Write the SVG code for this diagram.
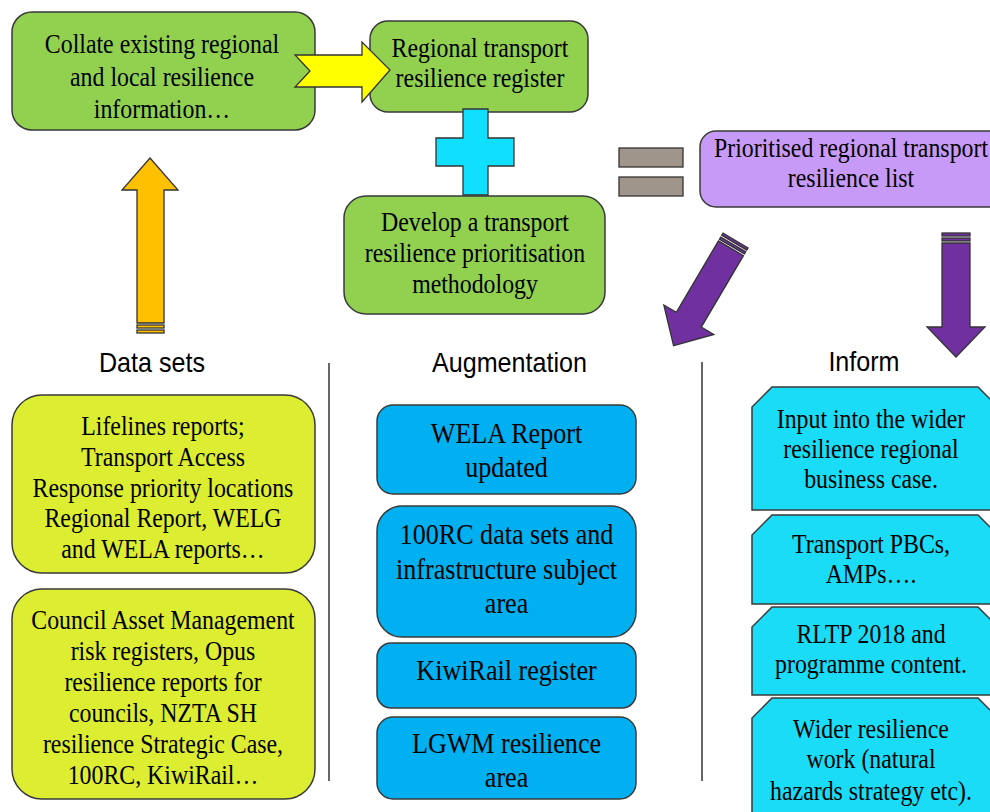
<svg xmlns="http://www.w3.org/2000/svg" width="990" height="812" viewBox="0 0 990 812">
<style>
.box{stroke:#3a3a3a;stroke-width:1.5}
.green{fill:#92D050}
.purple{fill:#C89AF7}
.lime{fill:#DDED32}
.blue{fill:#00B0F0}
.cyan{fill:#1ADCF6}
.t{font-family:"Liberation Serif","Times New Roman",serif;font-size:26.5px;fill:#000;text-anchor:middle}
.tb{font-family:"Liberation Serif","Times New Roman",serif;font-size:29px;fill:#000;text-anchor:middle}
.h{font-family:"Liberation Sans",Arial,sans-serif;font-size:27px;fill:#000;text-anchor:middle}
.arr{stroke:#333;stroke-width:1.3;stroke-linejoin:miter}
.sep{stroke:#333;stroke-width:1.5}
</style>
<rect width="990" height="812" fill="#fff"/>

<g id="separators">
<line class="sep" x1="329" y1="363" x2="329" y2="781"/>
<line class="sep" x1="702" y1="362" x2="702" y2="781"/>
</g>

<g id="headings">
<text class="h" transform="scale(0.93 1)" x="163.4" y="372">Data sets</text>
<text class="h" transform="scale(0.93 1)" x="547.8" y="372">Augmentation</text>
<text class="h" transform="scale(0.93 1)" x="929" y="371">Inform</text>
</g>

<g id="node-collate">
<rect class="box green" x="12" y="12" width="303" height="118" rx="20"/>
<g class="t" transform="scale(0.9 1)">
<text x="180" y="53">Collate existing regional</text>
<text x="180" y="86">and local resilience</text>
<text x="180" y="118">information…</text>
</g>
</g>

<g id="node-register">
<rect class="box green" x="370" y="21" width="218" height="91" rx="18"/>
<g class="t" transform="scale(0.9 1)">
<text x="533.3" y="57">Regional transport</text>
<text x="533.3" y="87">resilience  register</text>
</g>
</g>

<g id="node-methodology">
<rect class="box green" x="344" y="196" width="261" height="118" rx="22"/>
<g class="t" transform="scale(0.9 1)">
<text x="527.8" y="231">Develop a transport</text>
<text x="527.8" y="262">resilience prioritisation</text>
<text x="527.8" y="293">methodology</text>
</g>
</g>

<g id="node-prioritised">
<rect class="box purple" x="700" y="131" width="310" height="76" rx="16"/>
<g class="t" transform="scale(0.9 1)">
<text x="945.6" y="157">Prioritised regional transport</text>
<text x="945.6" y="187">resilience list</text>
</g>
</g>

<g id="operator-plus">
<path class="arr" fill="#10DFFF" d="M463,109 H488 V138 H514 V166 H488 V195 H463 V166 H436 V138 H463 Z"/>
</g>

<g id="operator-equals">
<rect class="arr" fill="#A0958A" x="619" y="148" width="64" height="19"/>
<rect class="arr" fill="#A0958A" x="619" y="177" width="64" height="19"/>
</g>

<g id="node-data-1">
<rect class="box lime" x="12" y="395" width="303" height="178" rx="30"/>
<g class="t" transform="scale(0.9 1)">
<text x="181.1" y="435">Lifelines reports;</text>
<text x="181.1" y="466">Transport Access</text>
<text x="181.1" y="497">Response priority locations</text>
<text x="181.1" y="527">Regional Report, WELG</text>
<text x="181.1" y="558">and WELA reports…</text>
</g>
</g>

<g id="node-data-2">
<rect class="box lime" x="12" y="589" width="303" height="210" rx="30"/>
<g class="t" transform="scale(0.9 1)">
<text x="181.1" y="629">Council Asset Management</text>
<text x="181.1" y="660">risk registers, Opus</text>
<text x="181.1" y="691">resilience reports for</text>
<text x="181.1" y="722">councils, NZTA SH</text>
<text x="181.1" y="753">resilience Strategic Case,</text>
<text x="181.1" y="784">100RC, KiwiRail…</text>
</g>
</g>

<g id="node-wela">
<rect class="box blue" x="377" y="405" width="259" height="89" rx="16"/>
<g class="tb" transform="scale(0.9 1)">
<text x="562.8" y="443">WELA Report</text>
<text x="562.8" y="477">updated</text>
</g>
</g>

<g id="node-100rc">
<rect class="box blue" x="377" y="506" width="259" height="131" rx="25"/>
<g class="tb" transform="scale(0.9 1)">
<text x="562.8" y="544">100RC data sets and</text>
<text x="562.8" y="579">infrastructure subject</text>
<text x="562.8" y="613">area</text>
</g>
</g>

<g id="node-kiwirail">
<rect class="box blue" x="377" y="643" width="259" height="65" rx="14"/>
<g class="tb" transform="scale(0.9 1)">
<text x="562.8" y="680">KiwiRail register</text>
</g>
</g>

<g id="node-lgwm">
<rect class="box blue" x="377" y="717" width="259" height="82" rx="16"/>
<g class="tb" transform="scale(0.9 1)">
<text x="562.8" y="753">LGWM resilience</text>
<text x="562.8" y="787">area</text>
</g>
</g>

<g id="node-inform-1">
<path class="box cyan" d="M772,387 H978 L998,407 V510 H752 V407 Z"/>
<g class="t" transform="scale(0.9 1)">
<text x="967.8" y="428">Input into the wider</text>
<text x="967.8" y="458">resilience regional</text>
<text x="967.8" y="488">business case.</text>
</g>
</g>

<g id="node-inform-2">
<path class="box cyan" d="M772,515 H978 L998,535 V604 H752 V535 Z"/>
<g class="t" transform="scale(0.9 1)">
<text x="967.8" y="553">Transport PBCs,</text>
<text x="967.8" y="583">AMPs….</text>
</g>
</g>

<g id="node-inform-3">
<path class="box cyan" d="M772,607 H978 L998,627 V695 H752 V627 Z"/>
<g class="t" transform="scale(0.9 1)">
<text x="967.8" y="643">RLTP 2018 and</text>
<text x="967.8" y="673">programme content.</text>
</g>
</g>

<g id="node-inform-4">
<path class="box cyan" d="M772,698 H978 L998,718 V820 H752 V718 Z"/>
<g class="t" transform="scale(0.9 1)">
<text x="967.8" y="738">Wider resilience</text>
<text x="967.8" y="768">work (natural</text>
<text x="967.8" y="800">hazards strategy etc).</text>
</g>
</g>

<g id="connectors">
<path class="arr" fill="#FFFF00" d="M295,55 H362 V42 L390,70 L362,102 V87 H295 L310,71 Z"/>
<g id="arrow-up">
<path class="arr" fill="#FFC000" d="M150,158 L178,190 H164 V323 H137 V190 H122 Z"/>
<rect class="arr" fill="#FFC000" x="137" y="325" width="27" height="3"/>
<rect class="arr" fill="#FFC000" x="137" y="330" width="27" height="3"/>
</g>
<g id="arrow-diag" transform="translate(735.5 240.5) rotate(30.5)">
<rect class="arr" fill="#7030A0" x="-14.5" y="0" width="29" height="2.5"/>
<rect class="arr" fill="#7030A0" x="-14.5" y="4.5" width="29" height="2.5"/>
<path class="arr" fill="#7030A0" d="M-14.5,9 H14.5 V92 H29 L0,122 L-29,92 H-14.5 Z"/>
</g>
<g id="arrow-down">
<rect class="arr" fill="#7030A0" x="942" y="233" width="28" height="3"/>
<rect class="arr" fill="#7030A0" x="942" y="238" width="28" height="3"/>
<path class="arr" fill="#7030A0" d="M942,243 H970 V327 H985 L956,357 L927,327 H942 Z"/>
</g>
</g>
</svg>
